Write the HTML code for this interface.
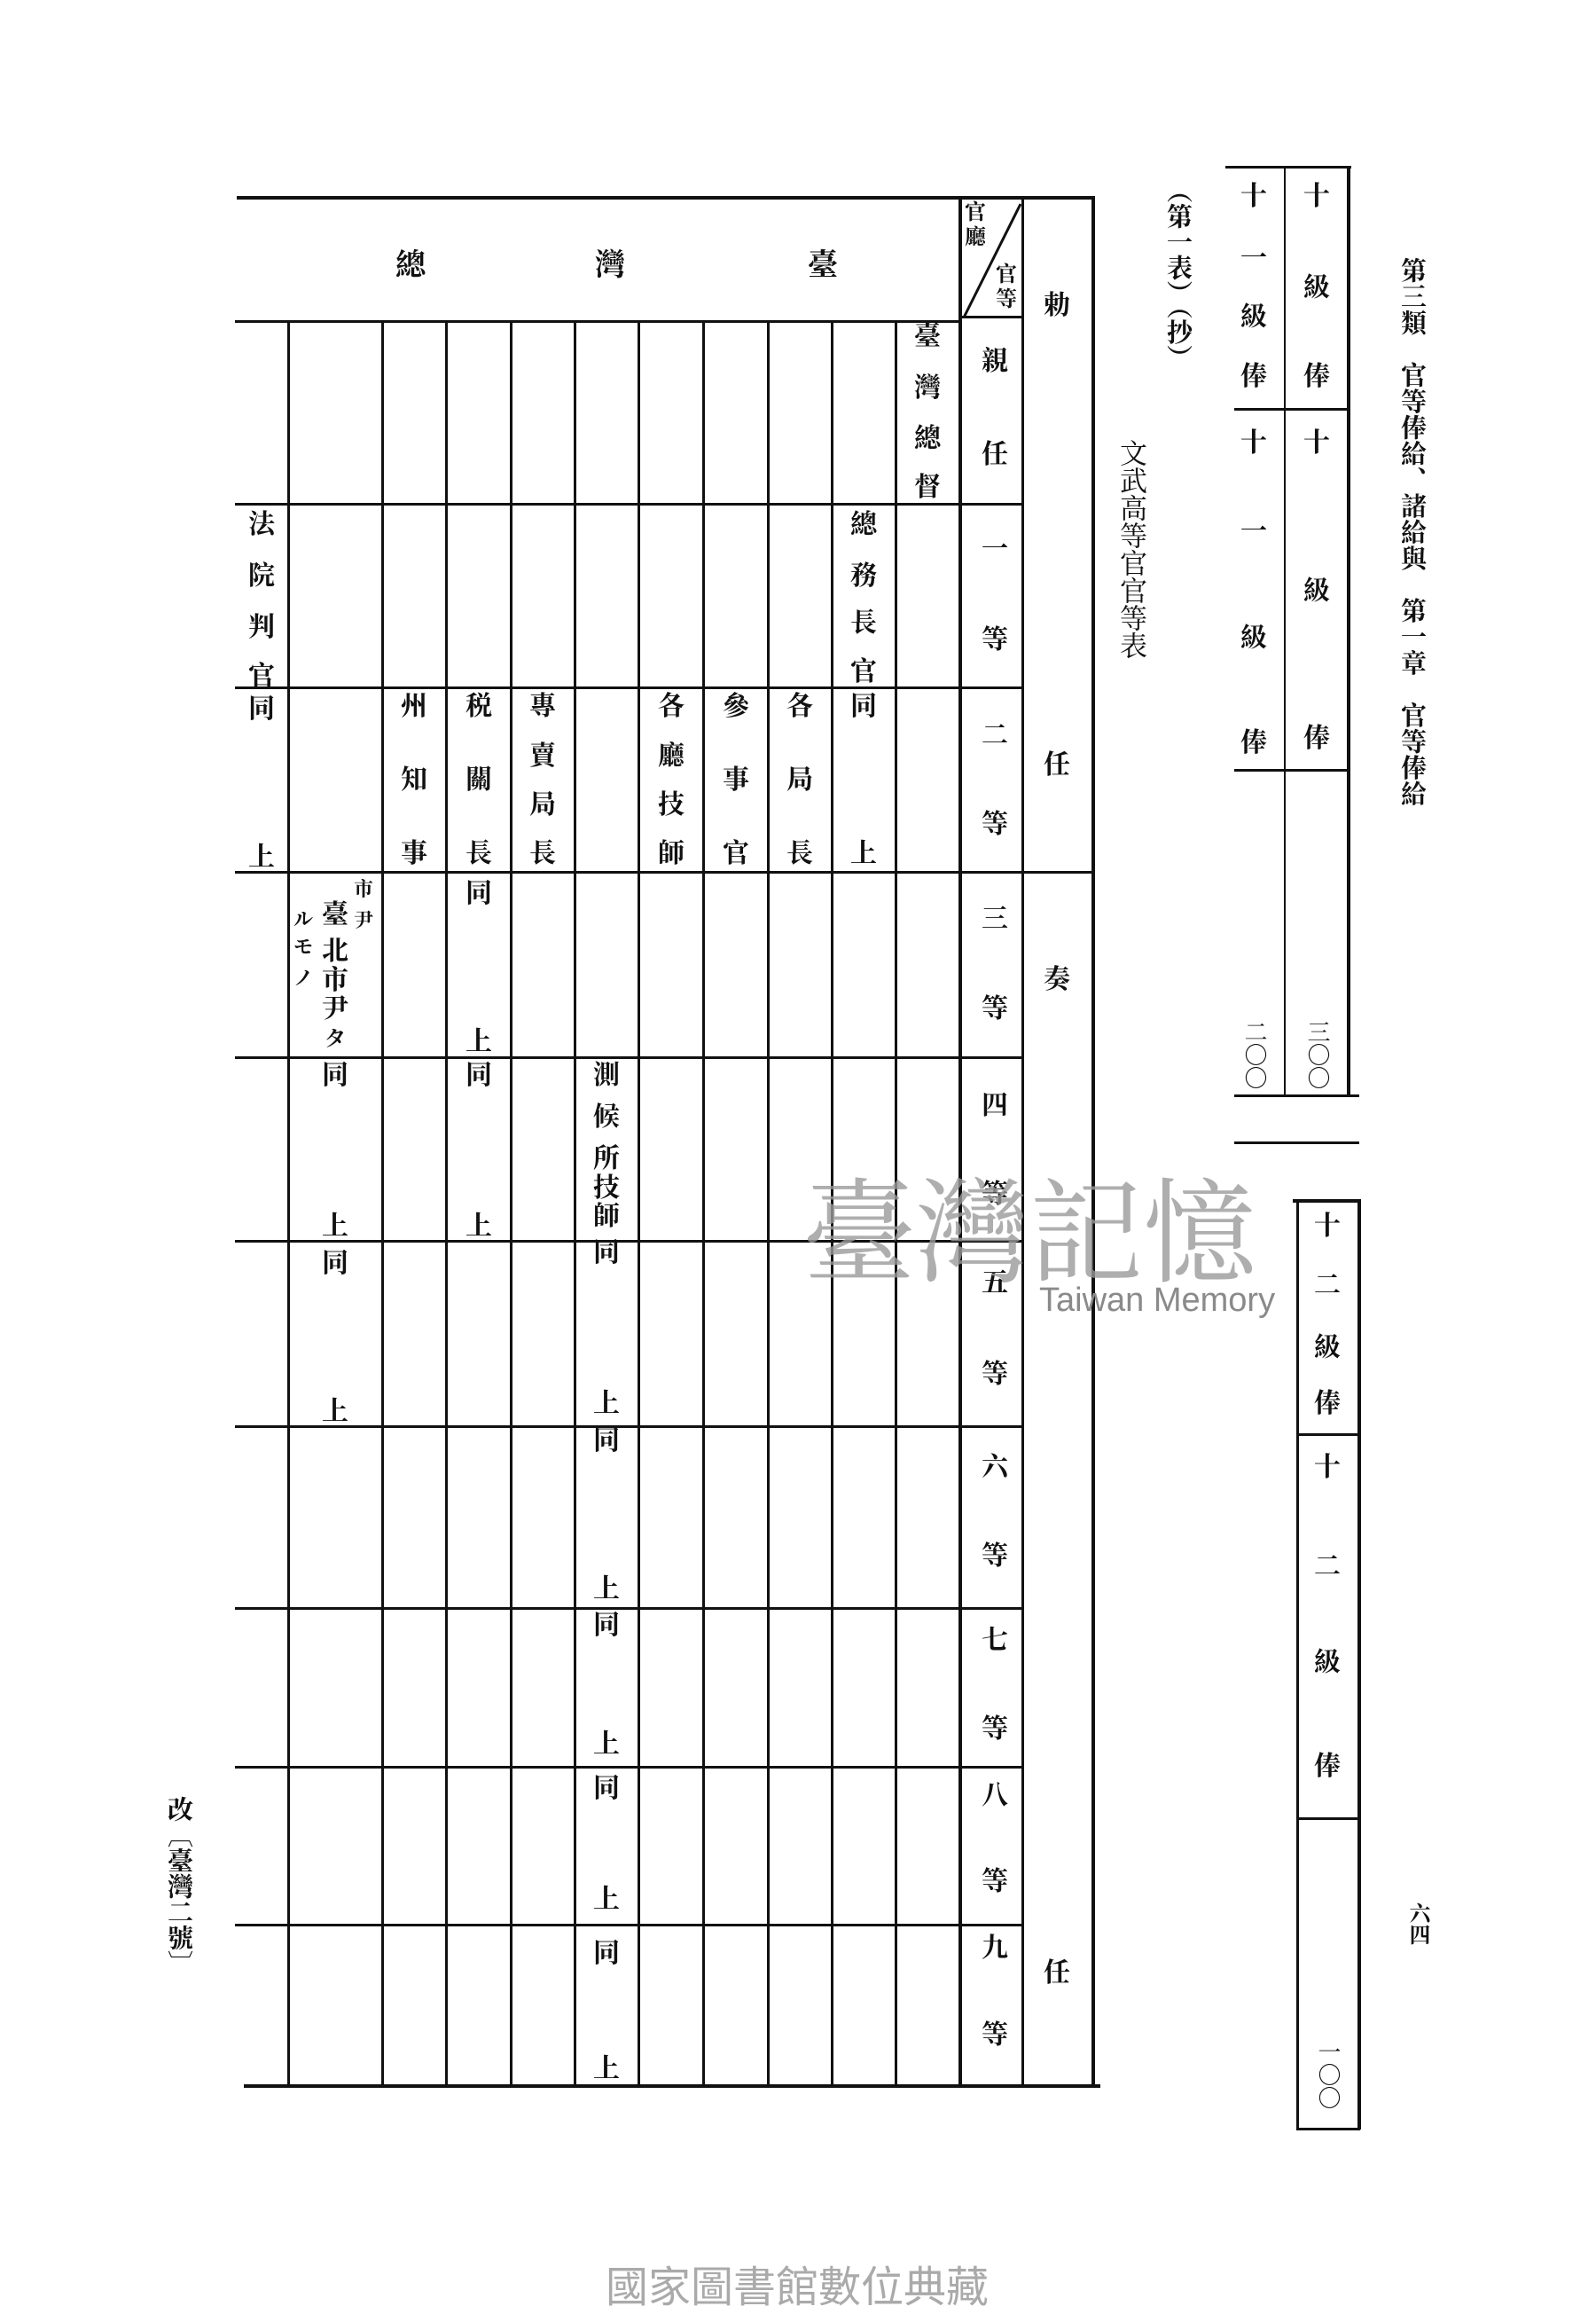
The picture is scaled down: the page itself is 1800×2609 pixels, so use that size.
<!DOCTYPE html>
<html><head><meta charset="utf-8">
<style>
html,body{margin:0;padding:0;background:#fff;}
body{width:1800px;height:2600px;position:relative;overflow:hidden;font-family:"Liberation Serif","Noto Serif CJK SC","Noto Sans CJK TC",serif;color:#111;}
.h{position:absolute;height:3px;background:#111;}
.v{position:absolute;width:3px;background:#111;}
.c{position:absolute;width:50px;margin-left:-25px;text-align:center;font-size:30px;line-height:30px;margin-top:-15px;font-weight:bold;}
.s{font-size:22px;line-height:22px;margin-top:-11px;}
.vt{position:absolute;writing-mode:vertical-rl;font-weight:bold;}
</style></head><body>

<!-- main table lines -->
<div class="h" style="left:267px;top:221px;width:968px;height:4px"></div>
<div class="h" style="left:265px;top:361px;width:818px"></div>
<div class="h" style="left:1083px;top:356px;width:70px"></div>
<div class="h" style="left:275px;top:2350px;width:966px;height:4px"></div>
<div class="h" style="left:265px;top:567px;width:888px"></div>
<div class="h" style="left:265px;top:774px;width:888px"></div>
<div class="h" style="left:265px;top:982px;width:968px"></div>
<div class="h" style="left:265px;top:1191px;width:888px"></div>
<div class="h" style="left:265px;top:1398px;width:888px"></div>
<div class="h" style="left:265px;top:1607px;width:888px"></div>
<div class="h" style="left:265px;top:1812px;width:888px"></div>
<div class="h" style="left:265px;top:1991px;width:888px"></div>
<div class="h" style="left:265px;top:2169px;width:888px"></div>

<div class="v" style="left:324px;top:363px;height:1989px"></div>
<div class="v" style="left:430px;top:363px;height:1989px"></div>
<div class="v" style="left:502px;top:363px;height:1989px"></div>
<div class="v" style="left:575px;top:363px;height:1989px"></div>
<div class="v" style="left:647px;top:363px;height:1989px"></div>
<div class="v" style="left:719px;top:363px;height:1989px"></div>
<div class="v" style="left:792px;top:363px;height:1989px"></div>
<div class="v" style="left:865px;top:363px;height:1989px"></div>
<div class="v" style="left:937px;top:363px;height:1989px"></div>
<div class="v" style="left:1009px;top:363px;height:1989px"></div>
<div class="v" style="left:1081px;top:222px;height:2130px;width:4px"></div>
<div class="v" style="left:1152px;top:222px;height:2130px"></div>
<div class="v" style="left:1231px;top:222px;height:2130px;width:4px"></div>
<svg style="position:absolute;left:1083px;top:222px" width="72" height="140"><line x1="68" y1="8" x2="4" y2="136" stroke="#111" stroke-width="3"/></svg>

<!-- header -->
<div class="c" style="left:928px;top:300px;font-size:34px">臺</div>
<div class="c" style="left:688px;top:300px;font-size:34px">灣</div>
<div class="c" style="left:463px;top:300px;font-size:34px">總</div>
<div class="c s" style="left:1100px;top:240px;font-size:24px">官</div>
<div class="c s" style="left:1100px;top:268px;font-size:24px">廳</div>
<div class="c s" style="left:1135px;top:310px;font-size:24px">官</div>
<div class="c s" style="left:1135px;top:338px;font-size:24px">等</div>

<!-- 勅任奏任 -->
<div class="c" style="left:1192px;top:345px">勅</div>
<div class="c" style="left:1192px;top:863px">任</div>
<div class="c" style="left:1192px;top:1105px">奏</div>
<div class="c" style="left:1192px;top:2225px">任</div>

<!-- 官等 column -->
<div class="c" style="left:1122px;top:408px">親</div><div class="c" style="left:1122px;top:513px">任</div>
<div class="c" style="left:1122px;top:620px">一</div><div class="c" style="left:1122px;top:722px">等</div>
<div class="c" style="left:1122px;top:830px">二</div><div class="c" style="left:1122px;top:930px">等</div>
<div class="c" style="left:1122px;top:1037px">三</div><div class="c" style="left:1122px;top:1138px">等</div>
<div class="c" style="left:1122px;top:1247px">四</div><div class="c" style="left:1122px;top:1347px">等</div>
<div class="c" style="left:1122px;top:1447px">五</div><div class="c" style="left:1122px;top:1550px">等</div>
<div class="c" style="left:1122px;top:1655px">六</div><div class="c" style="left:1122px;top:1755px">等</div>
<div class="c" style="left:1122px;top:1850px">七</div><div class="c" style="left:1122px;top:1950px">等</div>
<div class="c" style="left:1122px;top:2025px">八</div><div class="c" style="left:1122px;top:2122px">等</div>
<div class="c" style="left:1122px;top:2197px">九</div><div class="c" style="left:1122px;top:2295px">等</div>

<!-- col A -->
<div class="c" style="left:1046px;top:380px">臺</div><div class="c" style="left:1046px;top:438px">灣</div>
<div class="c" style="left:1046px;top:495px">總</div><div class="c" style="left:1046px;top:550px">督</div>
<!-- col B -->
<div class="c" style="left:974px;top:592px">總</div><div class="c" style="left:974px;top:650px">務</div>
<div class="c" style="left:974px;top:703px">長</div><div class="c" style="left:974px;top:758px">官</div>
<div class="c" style="left:974px;top:797px">同</div><div class="c" style="left:974px;top:963px">上</div>
<!-- col C -->
<div class="c" style="left:902px;top:797px">各</div><div class="c" style="left:902px;top:880px">局</div><div class="c" style="left:902px;top:963px">長</div>
<!-- col D -->
<div class="c" style="left:830px;top:797px">參</div><div class="c" style="left:830px;top:880px">事</div><div class="c" style="left:830px;top:963px">官</div>
<!-- col E -->
<div class="c" style="left:757px;top:797px">各</div><div class="c" style="left:757px;top:853px">廳</div>
<div class="c" style="left:757px;top:908px">技</div><div class="c" style="left:757px;top:963px">師</div>
<!-- col F -->
<div class="c" style="left:684px;top:1213px">測</div><div class="c" style="left:684px;top:1260px">候</div>
<div class="c" style="left:684px;top:1307px">所</div><div class="c" style="left:684px;top:1340px">技</div>
<div class="c" style="left:684px;top:1372px">師</div><div class="c" style="left:684px;top:1413px">同</div>
<div class="c" style="left:684px;top:1583px">上</div><div class="c" style="left:684px;top:1625px">同</div>
<div class="c" style="left:684px;top:1792px">上</div><div class="c" style="left:684px;top:1833px">同</div>
<div class="c" style="left:684px;top:1967px">上</div><div class="c" style="left:684px;top:2017px">同</div>
<div class="c" style="left:684px;top:2142px">上</div><div class="c" style="left:684px;top:2203px">同</div>
<div class="c" style="left:684px;top:2333px">上</div>
<!-- col G -->
<div class="c" style="left:612px;top:797px">專</div><div class="c" style="left:612px;top:853px">賣</div>
<div class="c" style="left:612px;top:908px">局</div><div class="c" style="left:612px;top:963px">長</div>
<!-- col H -->
<div class="c" style="left:540px;top:797px">税</div><div class="c" style="left:540px;top:880px">關</div>
<div class="c" style="left:540px;top:963px">長</div><div class="c" style="left:540px;top:1008px">同</div>
<div class="c" style="left:540px;top:1175px">上</div><div class="c" style="left:540px;top:1213px">同</div>
<div class="c" style="left:540px;top:1383px">上</div>
<!-- col I -->
<div class="c" style="left:467px;top:797px">州</div><div class="c" style="left:467px;top:880px">知</div><div class="c" style="left:467px;top:963px">事</div>
<!-- col J -->
<div class="c s" style="left:410px;top:1003px">市</div><div class="c s" style="left:410px;top:1038px">尹</div>
<div class="c" style="left:378px;top:1032px">臺</div><div class="c" style="left:378px;top:1073px">北</div>
<div class="c" style="left:378px;top:1106px">市</div><div class="c" style="left:378px;top:1138px">尹</div>
<div class="c" style="left:378px;top:1172px;font-size:24px">タ</div>
<div class="c s" style="left:342px;top:1037px">ル</div><div class="c s" style="left:342px;top:1068px">モ</div><div class="c s" style="left:342px;top:1103px">ノ</div>
<div class="c" style="left:378px;top:1213px">同</div><div class="c" style="left:378px;top:1383px">上</div>
<div class="c" style="left:378px;top:1425px">同</div><div class="c" style="left:378px;top:1592px">上</div>
<!-- col K -->
<div class="c" style="left:295px;top:592px">法</div><div class="c" style="left:295px;top:650px">院</div>
<div class="c" style="left:295px;top:708px">判</div><div class="c" style="left:295px;top:763px">官</div>
<div class="c" style="left:295px;top:800px">同</div><div class="c" style="left:295px;top:967px">上</div>

<!-- titles -->
<div class="vt" style="left:1258px;top:495px;font-size:31px;font-weight:normal;line-height:34px">文武高等官官等表</div>
<div class="vt" style="left:1312px;top:200px;font-size:29px;line-height:32px">（第一表）（抄）</div>
<div class="vt" style="left:1576px;top:290px;font-size:29px;line-height:32px;letter-spacing:0.5px">第三類　官等俸給、諸給與　第一章　官等俸給</div>
<div class="vt" style="left:1585px;top:2145px;font-size:24px;line-height:26px">六四</div>
<div class="vt" style="left:186px;top:2025px;font-size:29px;line-height:30px">改〔臺灣二號〕</div>

<!-- right table 1 -->
<div class="h" style="left:1382px;top:187px;width:142px"></div>
<div class="v" style="left:1448px;top:188px;height:1046px;width:2px"></div>
<div class="v" style="left:1519px;top:188px;height:1048px;width:4px"></div>
<div class="h" style="left:1392px;top:460px;width:129px"></div>
<div class="h" style="left:1392px;top:867px;width:129px"></div>
<div class="h" style="left:1392px;top:1234px;width:141px"></div>
<div class="c" style="left:1485px;top:222px">十</div><div class="c" style="left:1485px;top:325px">級</div>
<div class="c" style="left:1485px;top:425px">俸</div><div class="c" style="left:1485px;top:500px">十</div>
<div class="c" style="left:1485px;top:667px">級</div><div class="c" style="left:1485px;top:833px">俸</div>
<div class="vt" style="left:1472px;top:1150px;font-size:26px;line-height:26px;font-weight:normal">三〇〇</div>
<div class="c" style="left:1414px;top:222px">十</div><div class="c" style="left:1414px;top:292px">一</div>
<div class="c" style="left:1414px;top:358px">級</div><div class="c" style="left:1414px;top:425px">俸</div>
<div class="c" style="left:1414px;top:500px">十</div><div class="c" style="left:1414px;top:600px">一</div>
<div class="c" style="left:1414px;top:720px">級</div><div class="c" style="left:1414px;top:838px">俸</div>
<div class="vt" style="left:1401px;top:1150px;font-size:26px;line-height:26px;font-weight:normal">二〇〇</div>
<div class="h" style="left:1392px;top:1287px;width:141px"></div>

<!-- right table 2 -->
<div class="h" style="left:1458px;top:1352px;width:77px;height:4px"></div>
<div class="v" style="left:1462px;top:1353px;height:1048px"></div>
<div class="v" style="left:1531px;top:1353px;height:1048px;width:4px"></div>
<div class="h" style="left:1462px;top:1616px;width:72px"></div>
<div class="h" style="left:1462px;top:2049px;width:72px"></div>
<div class="h" style="left:1462px;top:2399px;width:72px"></div>
<div class="c" style="left:1497px;top:1383px">十</div><div class="c" style="left:1497px;top:1450px">二</div>
<div class="c" style="left:1497px;top:1520px">級</div><div class="c" style="left:1497px;top:1583px">俸</div>
<div class="c" style="left:1497px;top:1655px">十</div><div class="c" style="left:1497px;top:1767px">二</div>
<div class="c" style="left:1497px;top:1875px">級</div><div class="c" style="left:1497px;top:1992px">俸</div>
<div class="vt" style="left:1484px;top:2300px;font-size:26px;line-height:26px;font-weight:normal">一〇〇</div>

<!-- watermarks -->
<div style="position:absolute;left:905px;top:1305px;font-size:128px;line-height:150px;color:#9a9a9a;font-family:'Noto Serif CJK SC',serif;white-space:nowrap;opacity:0.8">臺灣記憶</div>
<div style="position:absolute;left:1172px;top:1445px;font-size:38px;color:#8a8a8a;font-family:'Liberation Sans',sans-serif;white-space:nowrap">Taiwan Memory</div>
<div style="position:absolute;left:683px;top:2548px;font-size:48px;line-height:52px;color:#aaa;font-family:'Noto Sans CJK TC',sans-serif;white-space:nowrap">國家圖書館數位典藏</div>
</body></html>
